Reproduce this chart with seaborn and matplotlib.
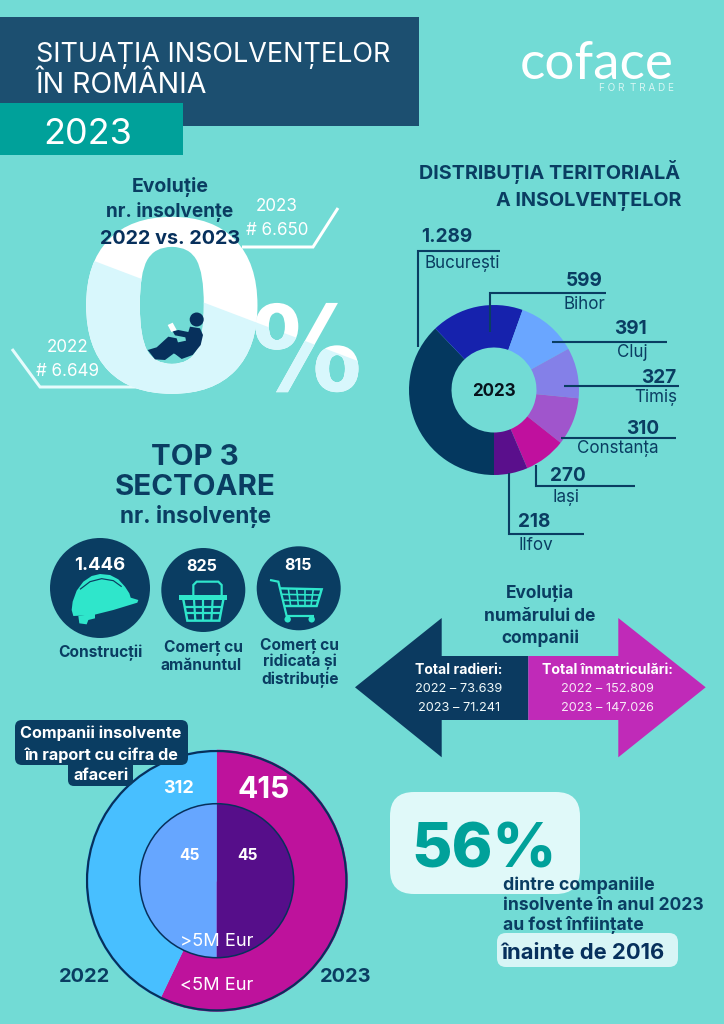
import matplotlib
matplotlib.use("Agg")
import matplotlib.pyplot as plt
import matplotlib.patheffects as pe
from matplotlib.patches import Polygon, Rectangle, Circle, FancyBboxPatch
from matplotlib.transforms import Affine2D
import seaborn as sns

# ---- data ----
regions = ["București", "Bihor", "Cluj", "Timiș", "Constanța", "Iași", "Ilfov"]
region_values = [1289, 599, 391, 327, 310, 270, 218]
region_labels = ["1.289", "599", "391", "327", "310", "270", "218"]
region_colors = ["#04385f", "#1622ad", "#6aa6ff", "#8480e8", "#a055cc", "#c0109e", "#5a0f8c"]
sectors = ["Construcții", "Comerț cu\namănuntul", "Comerț cu\nridicata și\ndistribuție"]
sector_values = ["1.446", "825", "815"]
turnover_small = [415, 312]
turnover_big = [45, 45]
turnover_outer_colors = ["#be129c", "#48bfff"]
turnover_inner_colors = ["#560e8a", "#66a6ff"]
radieri = ["2022 – 73.639", "2023 – 71.241"]
inmatriculari = ["2022 – 152.809", "2023 – 147.026"]

BG, NAVY, DEEP, TEAL, LIGHT = "#72dbd5", "#0a3d62", "#07305c", "#00a19a", "#e0f9f9"

sns.set_theme(style="white")
plt.rcParams["font.family"] = ["Inter", "DejaVu Sans"]
fig = plt.figure(figsize=(7.24, 10.24), dpi=100, facecolor=BG)

class StretchX(pe.AbstractPathEffect):
    """Widens real text horizontally around its own origin."""
    def __init__(self, sx):
        super().__init__()
        self.sx = sx
    def draw_path(self, renderer, gc, tpath, affine, rgbFace=None):
        renderer.draw_path(gc, tpath, Affine2D().scale(self.sx, 1) + affine, rgbFace)

def px_axes(cx, cy, r, z):
    a = fig.add_axes([(cx - r) / 724, 1 - (cy + r) / 1024, 2 * r / 724, 2 * r / 1024], zorder=z)
    a.patch.set_alpha(0)
    return a

base = fig.add_axes([0, 0, 1, 1], zorder=0)
base.set_xlim(0, 724); base.set_ylim(1024, 0); base.axis("off")
ax = fig.add_axes([0, 0, 1, 1], zorder=5)
ax.set_xlim(0, 724); ax.set_ylim(1024, 0); ax.axis("off"); ax.patch.set_alpha(0)

def T(x, y, s, size, weight="bold", color=NAVY, ha="center", target=ax, **kw):
    """y is the vertical middle of the capital letters; size in pixels."""
    return target.text(x, y + 0.36 * size, s, fontsize=size * 0.72, fontweight=weight,
                       color=color, ha=ha, va="baseline", zorder=6, **kw)

def L(pts, color=NAVY, lw=2.1, z=4):
    xs, ys = zip(*pts)
    ax.plot(xs, ys, color=color, lw=lw * 0.72, solid_capstyle="butt", solid_joinstyle="miter", zorder=z)

def P(pts, color, z=4):
    ax.add_patch(Polygon(pts, color=color, lw=0, zorder=z))

# ---- header ----
base.add_patch(Rectangle((0, 17), 419, 109, color="#1c4f70", lw=0))
base.add_patch(Rectangle((0, 103), 183, 52, color=TEAL, lw=0))
T(36, 52, "SITUAȚIA INSOLVENȚELOR", 27, "normal", "white", "left")
T(36, 83, "ÎN ROMÂNIA", 28.5, "normal", "white", "left")
T(43, 131, "2023", 36, "normal", "white", "left")
T(597, 60, "coface", 53, "normal", "white", family=["Lato", "DejaVu Sans"])
T(674, 87, "F O R  T R A D E", 10, "normal", "#d6f6f3", "right")

# ---- 0% ----
clip = Polygon([(60, 248), (400, 377), (400, 420), (60, 420)], transform=ax.transData)
for colr, clipped in (("white", False), ("#d8f7fc", True)):
    for s, x, size, sx in (("0", 72.5, 234, 1.22), ("%", 252, 118, 0.93)):
        t = ax.text(x, 390.5, s, fontsize=size * 0.72, fontweight="bold", color=colr, ha="left",
                    va="baseline", family="DejaVu Sans", zorder=2, alpha=1)
        t.set_path_effects([StretchX(sx)])
        if clipped:
            t.set_clip_on(True)
            t.set_clip_path(clip)
L([(242, 247), (313, 247), (338, 208)], "white", 3, 1)
L([(12, 349), (40, 387), (140, 387)], "#e6fbfc", 3, 1)
T(277, 205, "2023", 17, "normal", "white")
T(277, 229, "# 6.650", 17, "normal", "white")
T(68, 346, "2022", 17, "normal", "white")
T(68, 370, "# 6.649", 17, "normal", "white")
T(170, 185, "Evoluție", 19.5)
T(170, 210, "nr. insolvențe", 19)
T(170, 237, "2022 vs. 2023", 19.8, color=DEEP)
# reader silhouette
def R(pts):
    return [(x / 3, y / 3 + 160) for x, y in pts]
P(R([(570, 500), (600, 505), (609, 525), (602, 555), (578, 585), (545, 597), (520, 578), (530, 548),
     (558, 542), (556, 532), (525, 526), (518, 514), (535, 510), (565, 516)]), DEEP)
P(R([(505, 530), (530, 535), (548, 592), (522, 580), (495, 600), (465, 598), (443, 570), (470, 562)]), DEEP)
ax.add_patch(Circle((196.7, 319.5), 7, color=DEEP, lw=0, zorder=4))
P(R([(503, 495), (518, 488), (530, 510), (514, 516)]), "white", 5)

# ---- territorial donut ----
T(680, 172, "DISTRIBUȚIA TERITORIALĂ", 19.8, ha="right")
T(681, 199, "A INSOLVENȚELOR", 19.8, ha="right")
a1 = px_axes(494, 390, 85, 1)
a1.pie(region_values, colors=region_colors, startangle=270, counterclock=False,
       wedgeprops={"width": 0.5, "linewidth": 0})
a1.set_xlim(-1, 1); a1.set_ylim(-1, 1)
T(494, 390, "2023", 17, color="#06121c")

leaders = [[(418.3, 347), (418.3, 250.7), (500, 250.7)], [(490, 332), (490, 293.3), (606, 293.3)],
           [(552, 342), (667, 342)], [(564, 386.3), (679, 386.3)], [(561, 438), (676, 438)],
           [(535.7, 465), (535.7, 486.3), (635, 486.3)], [(509, 473), (509, 533.7), (584, 533.7)]]
num_pos = [(421, 235, "left"), (603, 279, "right"), (647, 327, "right"), (676, 376, "right"),
           (659, 427, "right"), (550, 474, "left"), (518, 520, "left")]
name_pos = [(425, 262, "left"), (605, 303, "right"), (648, 351, "right"), (677, 396, "right"),
            (659, 447, "right"), (552, 496, "left"), (519, 544, "left")]
for line, n, p, lab, nm in zip(leaders, num_pos, name_pos, region_labels, regions):
    L(line)
    T(n[0], n[1], lab, 19, ha=n[2])
    T(p[0], p[1], nm, 17, "normal", ha=p[2])

# ---- top 3 ----
T(195, 454, "TOP 3", 29.5)
T(195, 484, "SECTOARE", 29.5)
T(195, 515, "nr. insolvențe", 22.5)
circles = [(100, 588, 50), (203.3, 590, 42), (298.7, 588.3, 42)]
num_xy = [(100, 563, 18.5), (202, 565, 16), (298, 564, 16)]
lab_xy = [[(100, 652)], [(203, 646), (201, 664)], [(300, 644), (300, 661), (300, 679)]]
for c, n, v, ls, sec in zip(circles, num_xy, sector_values, lab_xy, sectors):
    ax.add_patch(Circle(c[:2], c[2], color=NAVY, lw=0, zorder=3))
    T(n[0], n[1], v, n[2], color="white")
    for (x, y), s in zip(ls, sec.split("\n")):
        T(x, y, s, 15.5)

ICON = "#2fe6cb"
def Z(pts):
    return [(x / 3 + 30, y / 3 + 530) for x, y in pts]
P(Z([(125, 240), (128, 215), (140, 182), (160, 155), (185, 138), (210, 132), (240, 135), (265, 148), (285, 170),
     (298, 190), (302, 203), (325, 210), (322, 218), (250, 240), (190, 255), (130, 258)]), ICON)
P(Z([(145, 258), (195, 250), (195, 265), (175, 270), (170, 283), (148, 280)]), ICON)
L(Z([(150, 178), (180, 155), (215, 146), (250, 152), (275, 170)]), NAVY, 1.2, 5)
# basket
L(Z([(490, 197), (490, 165), (500, 155), (565, 155), (575, 165), (575, 197)]), ICON, 2.2)
P(Z([(448, 195), (592, 195), (592, 209), (448, 209)]), ICON)
L(Z([(460, 209), (472, 272), (568, 272), (580, 209)]), ICON, 2.4)
for x0, x1 in [(492, 496), (520, 520), (548, 544)]:
    L(Z([(x0, 209), (x1, 272)]), ICON, 2.2)
L(Z([(464, 230), (576, 230)]), ICON, 2.2); L(Z([(468, 250), (572, 250)]), ICON, 2.2)
# cart
L(Z([(720, 150), (745, 155), (770, 258), (852, 258)]), ICON, 2.2)
L(Z([(750, 175), (875, 178), (860, 228), (762, 228)]), ICON, 2.4)
for x0, x1 in [(775, 782), (800, 805), (825, 825), (850, 843)]:
    L(Z([(x0, 176), (x1, 228)]), ICON, 1.6)
L(Z([(755, 193), (870, 195)]), ICON, 1.6); L(Z([(759, 211), (865, 212)]), ICON, 1.6)
ax.add_patch(Circle(Z([(773, 268)])[0], 3.2, color=ICON, lw=0, zorder=4))
ax.add_patch(Circle(Z([(845, 268)])[0], 3.2, color=ICON, lw=0, zorder=4))

# ---- arrows ----
P([(355, 687.3), (441.7, 618), (441.7, 656), (528.3, 656), (528.3, 720), (441.7, 720), (441.7, 757.3)], "#0b3a60", 3)
P([(705.7, 687.3), (618.3, 618), (618.3, 656), (528.3, 656), (528.3, 720), (618.3, 720), (618.3, 757.3)], "#c02ab8", 3)
T(540, 592, "Evoluția", 17.3); T(540, 615, "numărului de", 17.3); T(540, 637, "companii", 17.3)
T(459, 669, "Total radieri:", 14, color="white")
T(607, 669, "Total înmatriculări:", 14.2, color="white")
for y, a_txt, b_txt in zip((687, 706), radieri, inmatriculari):
    T(459, y, a_txt, 12.7, "normal", "#f2fbfb")
    T(607, y, b_txt, 12.7, "normal", "#f7e9f6")

# ---- turnover donut ----
a2 = px_axes(216.7, 880.7, 131, 1)
a2.pie(turnover_small, colors=turnover_outer_colors, startangle=90, counterclock=False, radius=1,
       wedgeprops={"linewidth": 0})
a2.pie(turnover_big, colors=turnover_inner_colors, startangle=90, counterclock=False, radius=77 / 131,
       wedgeprops={"linewidth": 0})
a2.set_xlim(-1, 1); a2.set_ylim(-1, 1)
a2.add_patch(Circle((0, 0), 0.99, fill=False, ec=DEEP, lw=1.6))
a2.add_patch(Circle((0, 0), 77 / 131, fill=False, ec=DEEP, lw=1.1))
ax.add_patch(FancyBboxPatch((21, 726), 161, 33, boxstyle="round,pad=6,rounding_size=7", color=NAVY, lw=0, zorder=3))
ax.add_patch(FancyBboxPatch((74, 760), 53, 20, boxstyle="round,pad=6,rounding_size=6", color=NAVY, lw=0, zorder=3))
T(101, 732, "Companii insolvente", 16.2, color="white")
T(101, 754, "în raport cu cifra de", 16.2, color="white")
T(101, 774, "afaceri", 16.2, color="white")
T(178, 787, str(turnover_small[1]), 18, color="white")
T(264, 787, str(turnover_small[0]), 30, color="white")
T(190, 854, str(turnover_big[1]), 15.5, color="white")
T(247, 854, str(turnover_big[0]), 15.5, color="white")
T(216.5, 939, ">5M Eur", 18.3, "normal", "white")
T(216.5, 983, "<5M Eur", 18.3, "normal", "white")
T(85, 975, "2022", 20); T(346, 975, "2023", 20)

# ---- 56% ----
ax.add_patch(FancyBboxPatch((414, 816), 142, 54, boxstyle="round,pad=24,rounding_size=24", color=LIGHT, lw=0, zorder=2))
T(484, 845, "56%", 62, "heavy", TEAL)
T(503, 884, "dintre companiile", 17.8, ha="left")
T(503, 904, "insolvente în anul 2023", 17.5, ha="left")
T(503, 924, "au fost înființate", 17.6, ha="left")
ax.add_patch(FancyBboxPatch((506, 942), 163, 16, boxstyle="round,pad=9,rounding_size=9", color="#d8f5f6", lw=0, zorder=3))
T(583, 951, "înainte de 2016", 22, color=DEEP)

fig.savefig("out.png", dpi=100, facecolor=BG)
